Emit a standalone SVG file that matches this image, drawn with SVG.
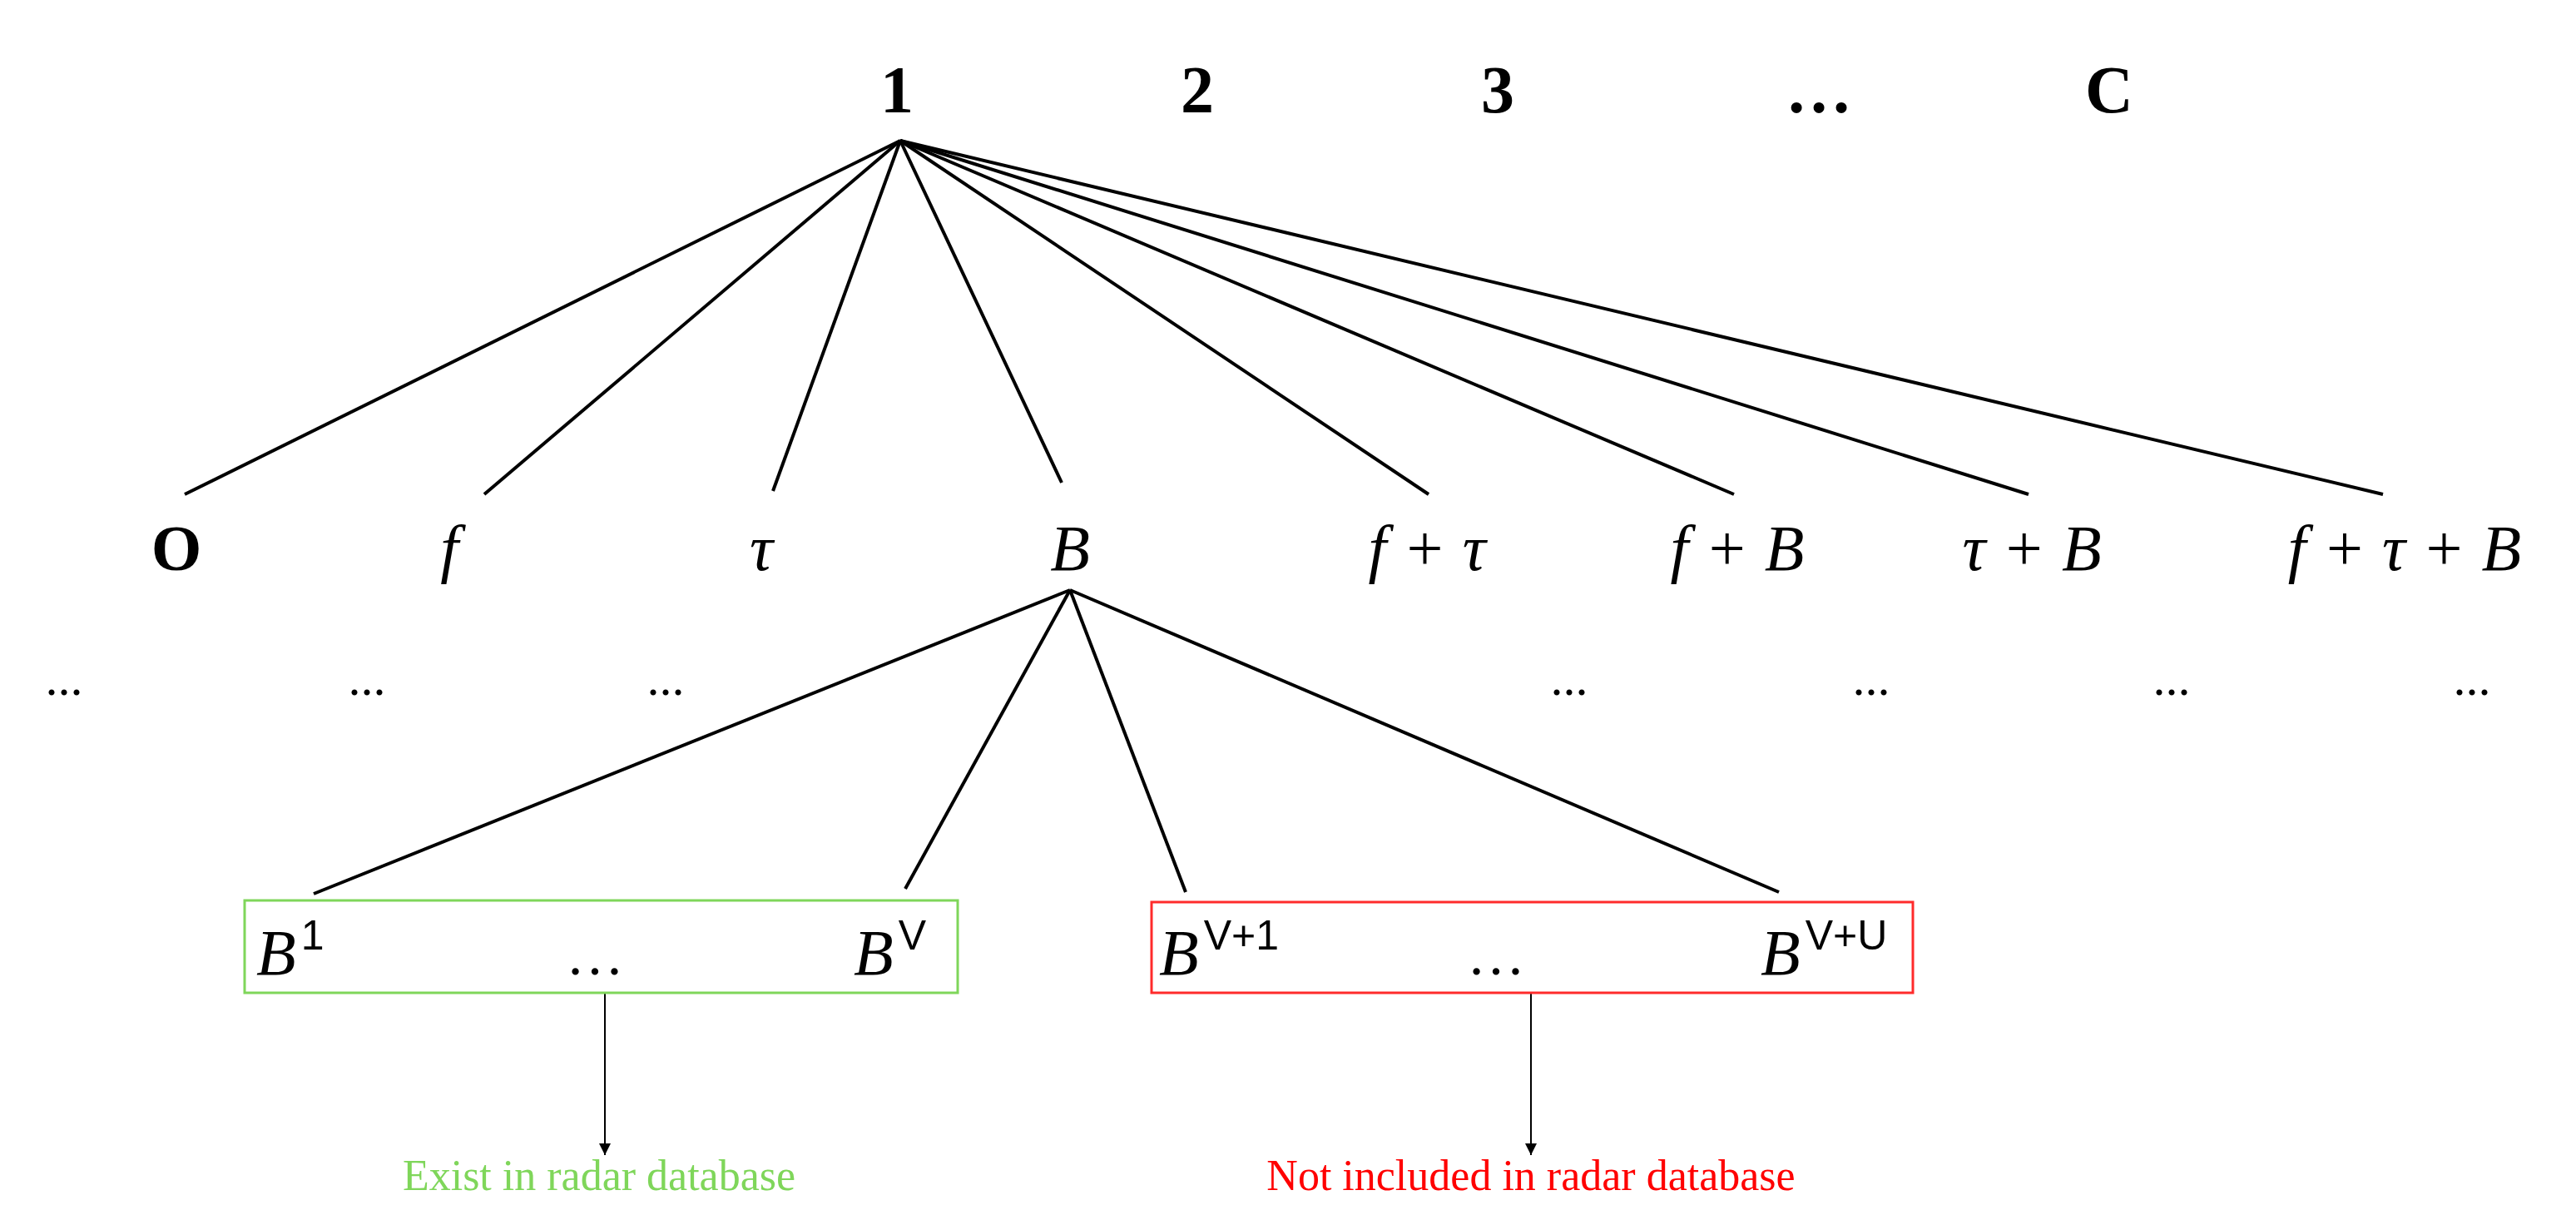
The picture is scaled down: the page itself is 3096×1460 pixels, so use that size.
<svg xmlns="http://www.w3.org/2000/svg" width="3096" height="1460" viewBox="0 0 3096 1460">
<defs>
<style>
.t{font-family:"Liberation Serif",serif;fill:#000}
.top{font-size:80px;font-weight:bold;text-anchor:middle}
.it{font-size:78px;font-style:italic;text-anchor:middle}
.dots{font-family:"Liberation Serif",serif;font-size:60px;text-anchor:middle}
.sup{font-family:"Liberation Sans",sans-serif;font-size:50px;font-style:normal}
.e{stroke:#000;stroke-width:4;fill:none}
.a{stroke:#000;stroke-width:2;fill:none}
</style>
<marker id="ah" viewBox="0 0 10 10" refX="10" refY="5" markerWidth="14" markerHeight="14" markerUnits="userSpaceOnUse" orient="auto"><path d="M0,0L10,5L0,10z" fill="#000"/></marker>
<marker id="ah2" viewBox="0 0 10 10" refX="10" refY="5" markerWidth="28" markerHeight="14" orient="auto" markerUnits="userSpaceOnUse"><path d="M0,0L10,5L0,10z" fill="#000"/></marker>
</defs>
<rect width="3096" height="1460" fill="#fff"/>
<g id="top">
<text class="t top" x="1078" y="135">1</text>
<text class="t top" x="1439" y="135">2</text>
<text class="t top" x="1800" y="135">3</text>
<text class="t top" x="2186" y="135">…</text>
<text class="t top" x="2535" y="135">C</text>
</g>
<g id="connectors">
<line class="e" x1="1082" y1="169" x2="222" y2="594"/>
<line class="e" x1="1082" y1="169" x2="582" y2="594"/>
<line class="e" x1="1082" y1="169" x2="929" y2="590"/>
<line class="e" x1="1082" y1="169" x2="1276" y2="580"/>
<line class="e" x1="1082" y1="169" x2="1717" y2="594"/>
<line class="e" x1="1082" y1="169" x2="2084" y2="594"/>
<line class="e" x1="1082" y1="169" x2="2438" y2="594"/>
<line class="e" x1="1082" y1="169" x2="2864" y2="594"/>
<line class="e" x1="1286" y1="709" x2="377" y2="1074"/>
<line class="e" x1="1286" y1="709" x2="1088" y2="1068"/>
<line class="e" x1="1286" y1="709" x2="1425" y2="1072"/>
<line class="e" x1="1286" y1="709" x2="2138" y2="1072"/>
<line class="a" x1="727" y1="1193" x2="727" y2="1388" marker-end="url(#ah2)"/>
<line class="a" x1="1840" y1="1193" x2="1840" y2="1388" marker-end="url(#ah2)"/>
</g>
<g id="level2">
<text class="t top" x="212" y="685" style="font-size:78px">O</text>
<text class="t it" x="540" y="685">f</text>
<text class="t it" x="915" y="685">τ</text>
<text class="t it" x="1286" y="685">B</text>
<text class="t it" x="1715" y="685">f + τ</text>
<text class="t it" x="2088" y="685">f + B</text>
<text class="t it" x="2442" y="685">τ + B</text>
<text class="t it" x="2890" y="685">f + τ + B</text>
</g>
<g id="ellipses">
<text class="dots" x="77" y="835">...</text>
<text class="dots" x="441" y="835">...</text>
<text class="dots" x="800" y="835">...</text>
<text class="dots" x="1886" y="835">...</text>
<text class="dots" x="2249" y="835">...</text>
<text class="dots" x="2610" y="835">...</text>
<text class="dots" x="2971" y="835">...</text>
</g>
<g id="green-box">
<rect x="294" y="1082" width="857" height="111" fill="none" stroke="#7fd65a" stroke-width="3"/>
<text class="t" x="308" y="1171" style="font-size:78px;font-style:italic">B<tspan class="sup" dx="6" dy="-30">1</tspan></text>
<text class="t" x="715" y="1171" style="font-size:70px;text-anchor:middle">…</text>
<text class="t" x="1026" y="1171" style="font-size:78px;font-style:italic">B<tspan class="sup" dx="6" dy="-30">V</tspan></text>
</g>
<g id="red-box">
<rect x="1384" y="1084" width="915" height="109" fill="none" stroke="#ff2b2b" stroke-width="3"/>
<text class="t" x="1393" y="1171" style="font-size:78px;font-style:italic">B<tspan class="sup" dx="6" dy="-30">V+1</tspan></text>
<text class="t" x="1798" y="1171" style="font-size:70px;text-anchor:middle">…</text>
<text class="t" x="2116" y="1171" style="font-size:78px;font-style:italic">B<tspan class="sup" dx="6" dy="-30">V+U</tspan></text>
</g>
<g id="labels">
<text class="t" x="720" y="1430" style="font-size:52px;fill:#7fd65a;text-anchor:middle">Exist in radar database</text>
<text class="t" x="1840" y="1430" style="font-size:52px;fill:#ff0000;text-anchor:middle">Not included in radar database</text>
</g>
</svg>
